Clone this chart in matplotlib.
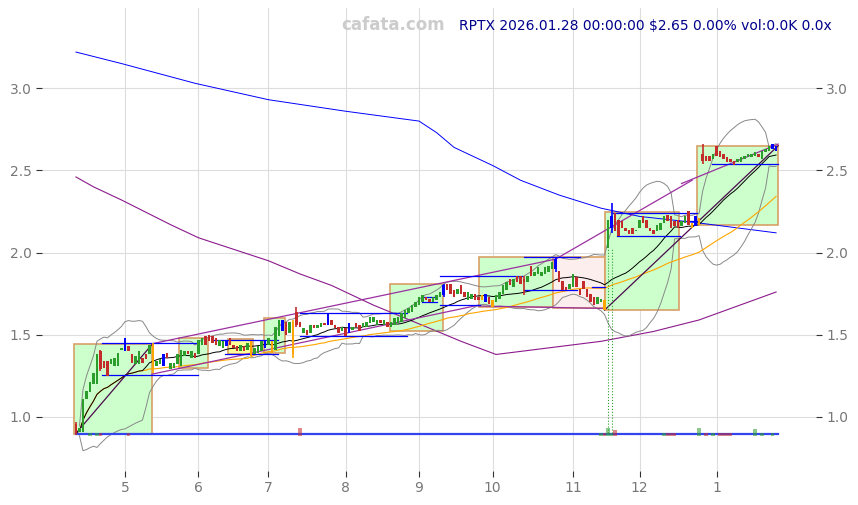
import matplotlib
matplotlib.use('Agg')
import matplotlib.pyplot as plt
from matplotlib.patches import Rectangle
import pandas as pd

# daily candles (open / close), Apr 2025 -> Jan 28 2026
opens = [0.96, 0.91, 0.91, 1.11, 1.15, 1.20, 1.20, 1.40, 1.34, 1.34,
         1.32, 1.31, 1.31, 1.41, 1.40, 1.43, 1.38, 1.32, 1.32, 1.36,
         1.38, 1.38, 1.44, 1.31, 1.32, 1.31, 1.39, 1.29, 1.30, 1.32,
         1.31, 1.37, 1.40, 1.36, 1.39, 1.38, 1.44, 1.49, 1.50, 1.49,
         1.48, 1.43, 1.42, 1.43, 1.48, 1.44, 1.43, 1.40, 1.43, 1.41,
         1.46, 1.38, 1.39, 1.40, 1.42, 1.44, 1.46, 1.41, 1.49, 1.52,
         1.58, 1.51, 1.58, 1.64, 1.58, 1.51, 1.53, 1.51, 1.56, 1.54,
         1.55, 1.57, 1.56, 1.59, 1.56, 1.55, 1.52, 1.54, 1.51, 1.53,
         1.57, 1.56, 1.55, 1.55, 1.57, 1.58, 1.56, 1.59, 1.56, 1.58,
         1.55, 1.56, 1.57, 1.58, 1.60, 1.63, 1.64, 1.67, 1.68, 1.70,
         1.73, 1.72, 1.70, 1.71, 1.73, 1.74, 1.81, 1.81, 1.77, 1.75,
         1.80, 1.76, 1.71, 1.72, 1.75, 1.73, 1.74, 1.75, 1.73, 1.71,
         1.70, 1.72, 1.75, 1.77, 1.84, 1.79, 1.86, 1.86, 1.84, 1.82,
         1.92, 1.86, 1.87, 1.86, 1.87, 1.88, 1.90, 1.90, 1.89, 1.83,
         1.79, 1.78, 1.79, 1.85, 1.78, 1.83, 1.78, 1.75, 1.73, 1.69,
         1.70, 1.71, 2.03, 2.15, 2.24, 2.20, 2.19, 2.15, 2.14, 2.15,
         2.13, 2.15, 2.22, 2.20, 2.15, 2.14, 2.13, 2.14, 2.18, 2.23,
         2.22, 2.19, 2.20, 2.16, 2.18, 2.25, 2.18, 2.16, 2.17, 2.60,
         2.59, 2.59, 2.57, 2.65, 2.62, 2.60, 2.58, 2.57, 2.56, 2.55,
         2.55, 2.57, 2.58, 2.58, 2.59, 2.60, 2.57, 2.61, 2.62, 2.63,
         2.62]
closes = [0.90, 0.93, 1.11, 1.16, 1.21, 1.27, 1.38, 1.29, 1.30, 1.25,
          1.35, 1.36, 1.39, 1.42, 1.48, 1.40, 1.33, 1.37, 1.40, 1.33,
          1.35, 1.44, 1.29, 1.34, 1.35, 1.38, 1.36, 1.33, 1.33, 1.38,
          1.41, 1.40, 1.38, 1.40, 1.36, 1.47, 1.48, 1.44, 1.46, 1.45,
          1.44, 1.47, 1.46, 1.47, 1.44, 1.42, 1.40, 1.44, 1.40, 1.45,
          1.37, 1.42, 1.43, 1.46, 1.46, 1.48, 1.39, 1.55, 1.59, 1.59,
          1.50, 1.58, 1.38, 1.56, 1.55, 1.54, 1.50, 1.56, 1.54, 1.56,
          1.57, 1.56, 1.63, 1.56, 1.54, 1.51, 1.55, 1.49, 1.57, 1.55,
          1.55, 1.52, 1.57, 1.58, 1.61, 1.61, 1.59, 1.57, 1.59, 1.55,
          1.58, 1.60, 1.61, 1.63, 1.65, 1.66, 1.68, 1.70, 1.73, 1.74,
          1.71, 1.70, 1.73, 1.74, 1.76, 1.80, 1.77, 1.75, 1.73, 1.78,
          1.75, 1.73, 1.76, 1.75, 1.71, 1.71, 1.71, 1.70, 1.69, 1.67,
          1.74, 1.76, 1.80, 1.82, 1.80, 1.84, 1.82, 1.81, 1.82, 1.86,
          1.86, 1.88, 1.91, 1.88, 1.91, 1.92, 1.94, 1.96, 1.82, 1.77,
          1.77, 1.81, 1.87, 1.79, 1.74, 1.78, 1.73, 1.70, 1.68, 1.73,
          1.72, 1.65, 2.20, 2.22, 2.13, 2.10, 2.15, 2.13, 2.11, 2.11,
          2.14, 2.20, 2.18, 2.15, 2.13, 2.11, 2.17, 2.18, 2.22, 2.19,
          2.15, 2.16, 2.15, 2.19, 2.22, 2.17, 2.15, 2.22, 2.21, 2.56,
          2.56, 2.56, 2.60, 2.59, 2.58, 2.57, 2.55, 2.55, 2.53, 2.57,
          2.58, 2.59, 2.60, 2.60, 2.61, 2.58, 2.62, 2.63, 2.65, 2.66,
          2.65]
wicks = {0: (0.97, 0.89), 7: (1.41, 1.28), 22: (1.45, 1.27), 62: (1.59, 1.36),
         63: (1.67, 1.55), 105: (1.81, 1.73), 128: (1.86, 1.74),
         137: (1.97, 1.88), 153: (2.30, 2.12), 179: (2.66, 2.54)}
blue_days = [14, 25, 43, 54, 59, 72, 78, 105, 117, 137, 153, 177, 199, 200]
orange_days = [22, 50, 56, 62, 116, 119, 151, 176, 178]

vol_days = [4, 6, 7, 15, 64, 150, 151, 152, 153, 154, 168, 169, 170, 171,
            178, 180, 182, 184, 185, 186, 187, 194, 196, 199]
vol_vals = [0.02, 0.015, 0.02, 0.015, 0.045, 0.02, 0.02, 0.05, 0.02, 0.035,
            0.02, 0.02, 0.015, 0.02, 0.045, 0.02, 0.015, 0.02, 0.02, 0.02,
            0.02, 0.04, 0.02, 0.015]

# long moving average (blue) and slow curve (purple), read at points
ma_long_idx = [0, 13, 34, 55, 77, 98, 103, 108, 119, 127, 138, 150, 161, 178, 200]
ma_long_val = [3.22, 3.15, 3.03, 2.93, 2.86, 2.80, 2.73, 2.64, 2.53, 2.44, 2.35, 2.27, 2.22, 2.18, 2.12]
slow_idx = [0, 5, 13, 27, 35, 55, 64, 73, 85, 101, 110, 120, 135, 150, 165, 178, 200]
slow_val = [2.46, 2.40, 2.32, 2.17, 2.09, 1.95, 1.87, 1.80, 1.68, 1.54, 1.46, 1.38, 1.42, 1.46, 1.52, 1.59, 1.76]

# trend lines (start idx, start price, end idx, end price)
trend_lines = [(0, 0.90, 21.7, 1.44), (21.7, 1.445, 137, 1.96), (137, 1.96, 176, 2.44),
               (173, 2.42, 200.6, 2.66), (21.7, 1.26, 115, 1.68), (115, 1.675, 151, 1.66),
               (151, 1.65, 200.6, 2.65)]
# zones (x0, x1, bottom, top, kind)
boxes = [(-0.5, 21.7, 0.895, 1.445, 'g'), (29.4, 37.7, 1.30, 1.48, 'g'),
         (43.4, 50.6, 1.38, 1.475, 'y'), (53.7, 59.7, 1.39, 1.60, 'g'),
         (89.7, 104.9, 1.52, 1.81, 'g'), (115.1, 136.3, 1.67, 1.97, 'g'),
         (136.3, 151.1, 1.66, 1.975, 'p'), (151.1, 172.3, 1.65, 2.245, 'g'),
         (177.4, 200.6, 2.17, 2.65, 'g')]
levels = [(7.4, 34.9, 1.45), (7.4, 34.9, 1.255), (38.9, 57.7, 1.47), (42.6, 57.7, 1.38),
          (64, 94.6, 1.63), (64, 94.6, 1.49), (98.9, 103.1, 1.73), (98.9, 103.1, 1.70),
          (104, 127.4, 1.855), (104, 115.4, 1.68), (128, 144, 1.97), (128, 143.1, 1.77),
          (147.4, 151.1, 1.79), (153.4, 177.4, 2.24), (154.6, 172.6, 2.10),
          (171.7, 177.4, 2.195), (181.7, 200.6, 2.54)]

holidays = ['2025-04-18', '2025-05-26', '2025-06-19', '2025-07-04', '2025-09-01',
            '2025-11-27', '2025-12-25', '2026-01-01', '2026-01-19']
n = len(closes)
dates = pd.bdate_range(end='2026-01-28', periods=n, freq='C', holidays=holidays)
x = list(range(n))

c = pd.Series(closes)
ma20 = c.rolling(20, min_periods=1).mean()
sd20 = c.rolling(20, min_periods=2).std(ddof=0)
ma50 = c.rolling(50, min_periods=1).mean()

fig = plt.figure(figsize=(8.58, 5.05), dpi=100)
ax = fig.add_axes([42/858, 34/505, 774/858, 463/505])

fills = {'g': '#ccffcc', 'y': '#ffff99', 'p': '#fdeeee'}
for x0, x1, b, t, k in boxes:
    ax.add_patch(Rectangle((x0, b), x1 - x0, t - b, facecolor=fills[k],
                           edgecolor='#d9a066', lw=1.2, zorder=1))

ax.plot(ma_long_idx, ma_long_val, color='blue', lw=0.7, zorder=2)
ax.plot(slow_idx, slow_val, color='#8b1a8b', lw=0.8, zorder=2)
ax.plot(x, ma20 + 2*sd20, color='#888888', lw=0.7, zorder=2)
ax.plot(x, ma20 - 2*sd20, color='#888888', lw=0.7, zorder=2)
ax.plot(x, ma50, color='orange', lw=0.8, zorder=2)
ax.plot(x, ma20, color='black', lw=0.7, zorder=2)
for k, (a0, v0, a1, v1) in enumerate(trend_lines):
    col = '#4b0a4b' if k in (0, 6) else '#9b30a0'
    ax.plot([a0, a1], [v0, v1], color=col, lw=0.9, zorder=2)
for a0, a1, v in levels:
    ax.plot([a0, a1], [v, v], color='blue', lw=0.9, zorder=2)

# volume strip
ax.plot([0, n - 0.5], [0.896, 0.896], color='#3344ee', lw=1.6, zorder=2)
for d, v in zip(vol_days, vol_vals):
    col = '#2ca02c' if closes[d] >= opens[d] else '#c42b2b'
    ax.bar(d, v, bottom=0.885, width=1.0, color=col, alpha=0.55, zorder=3)

ax.vlines([152, 153], 0.9, 2.03, colors='#2ca02c', linestyles=':', lw=0.8, zorder=2)

for i in x:
    o, cl = opens[i], closes[i]
    if i in blue_days:
        col = 'blue'
    elif i in orange_days:
        col = 'orange'
    else:
        col = '#2a9d2a' if cl >= o else '#c42b2b'
    if i in wicks:
        ax.vlines(i, wicks[i][1], wicks[i][0], colors=col, lw=1.2, zorder=3)
    ax.bar(i, max(abs(cl - o), 0.005), bottom=min(o, cl), width=0.7, color=col, zorder=4)

ticks = [i for i in range(1, n) if dates[i].month != dates[i - 1].month]
ax.set_xticks(ticks)
ax.set_xticklabels([str(dates[i].month) for i in ticks])
ax.set_yticks([1.0, 1.5, 2.0, 2.5, 3.0])
ax.set_yticklabels(['1.0', '1.5', '2.0', '2.5', '3.0'])
ax.set_xlim(-9.7, 211.4)
ax.set_ylim(0.671, 3.488)
ax.tick_params(labelright=True, right=True, labelsize=10, labelcolor='#777777',
               length=4, color='#333333')
ax.grid(color='#dddddd', lw=0.8)
ax.set_axisbelow(True)
for s in ax.spines.values():
    s.set_visible(False)

fig.text(0.458, 0.95, 'cafata.com', color='#cccccc', fontsize=12, fontweight='bold',
         ha='center', va='center')
fig.text(0.535, 0.949, 'RPTX 2026.01.28 00:00:00 $2.65 0.00% vol:0.0K 0.0x',
         color='#00008b', fontsize=10, ha='left', va='center')

fig.savefig('out.png')
